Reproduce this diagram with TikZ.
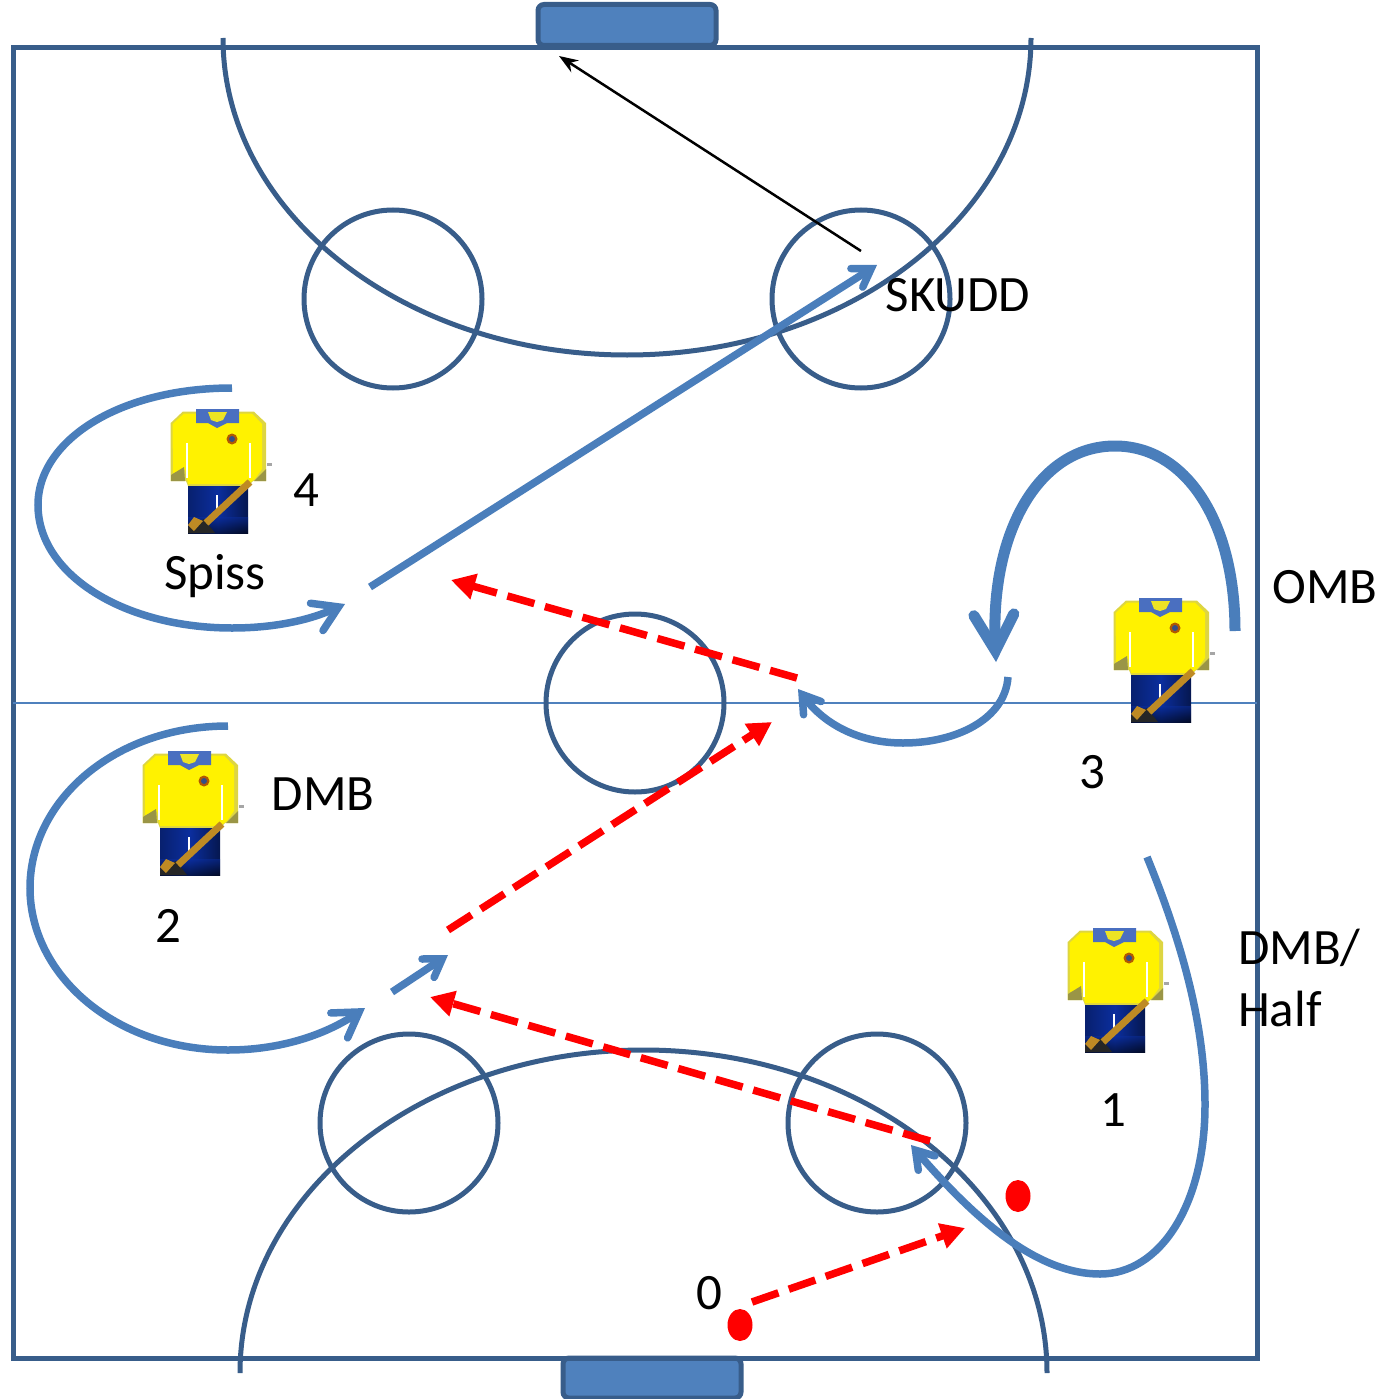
\documentclass[tikz,border=0pt]{standalone}
\usepackage{fontspec}
\setmainfont{Carlito}
\usetikzlibrary{arrows.meta,calc,shapes.geometric}
\definecolor{rinkblue}{HTML}{385D8A}
\definecolor{runblue}{HTML}{4A7EBB}
\definecolor{goalblue}{HTML}{4F81BD}
\definecolor{stickgold}{HTML}{BE8A24}
\definecolor{shortblue}{HTML}{0B2E9E}
\definecolor{collarblue}{HTML}{4A6FC0}
\tikzset{
  rink/.style={draw=rinkblue,line width=5pt},
  run/.style={draw=runblue,line width=7.5pt,-{Straight Barb[length=24pt,width=30pt,line width=7.5pt,line cap=round,line join=miter]}},
  runsmall/.style={draw=runblue,line width=7.5pt,-{Straight Barb[length=17pt,width=22pt,line width=7.5pt,line cap=round,line join=miter]}},
  runthick/.style={draw=runblue,line width=11pt,-{Straight Barb[length=36pt,width=40pt,line width=11pt,line cap=round,line join=miter]}},
  pass/.style={draw=red,line width=7.5pt,dash pattern=on 28pt off 11pt,-{Triangle[length=24pt,width=25pt]}},
  shotline/.style={draw=black,line width=2.5pt,-{Stealth[length=19pt,width=14pt]}},
  lab/.style={font=\fontsize{51}{60}\selectfont,inner sep=0pt},
  puck/.style={fill=red,draw=none},
  goal/.style={fill=goalblue,draw=rinkblue,line width=5pt,rounded corners=6pt},
  shirt/.pic={
    \fill[yellow!70!gray] (0.7,14)--(12.7,2.7)--(84,2.7)--(96,14)--(96,72)--(83,72)--(78,77)--(18,77)--(16,72)--(0.7,72)--cycle;
    \fill[yellow] (2.5,15)--(14,4.5)--(82,4.5)--(92,15)--(92,60)--(85,70)--(78,75)--(18,75)--(15,60)--(3,64)--cycle;
    \fill[yellow!55!black] (1,72)--(1,66)--(14,58)--(15,72)--cycle;
    \fill[yellow!55!black] (96,72)--(96,60)--(84,72)--cycle;
    \fill[gray!70] (97,54)--(102,54)--(102,57)--(97,57)--cycle;
    \fill[collarblue] (26,0)--(69,0)--(69,14)--(57,14)--(47,19)--(38,14)--(26,14)--cycle;
    \fill[yellow!85!gray] (38,3)--(57,3)--(53,11)--(47,13)--(41,11)--cycle;
    \fill[orange!70!black] (62,30) circle (5.5pt);
    \fill[collarblue!70!black] (62,30) circle (3pt);
    \fill[white] (15.5,34) rectangle (17.5,69);
    \fill[white] (78.5,34) rectangle (80.5,69);
    \shade[left color=shortblue!70!black,right color=shortblue!50!black,middle color=shortblue] (18,77) rectangle (78,124);
    \shade[top color=shortblue,bottom color=black,draw=none,opacity=0.5] (18,108) rectangle (78,124);
    \fill[black!85] (18,124)--(18,118)--(34,110)--(45,124)--cycle;
    \fill[white] (46,86) rectangle (48,104);
    \draw[draw=stickgold,line width=7pt] (80,73)--(36,114);
    \fill[stickgold] (18,116)--(24,108)--(33,112)--(24,122)--cycle;
  }
}
\begin{document}
\begin{tikzpicture}[x=1pt,y=-1pt]
\useasboundingbox (0,0) rectangle (1387,1399);
% rink
\node[goal,minimum width=178pt,minimum height=41pt,inner sep=0pt] (topgoal) at (627,25) {};
\node[goal,minimum width=178pt,minimum height=40pt,inner sep=0pt] (botgoal) at (652,1378) {};
\draw[rink] (13,48) rectangle (1257,1358);
\draw[draw=goalblue,line width=2pt] (13,703) -- (1257,703);
\draw[rink] (223,38) arc[start angle=180,end angle=360,x radius=404pt,y radius=317pt];
\draw[rink] (240,1373) arc[start angle=180,end angle=0,x radius=403.5pt,y radius=323pt];
\node[rink,circle,minimum size=178pt,inner sep=0pt] (c1) at (393,299) {};
\node[rink,circle,minimum size=178pt,inner sep=0pt] (c2) at (861,299) {};
\node[rink,circle,minimum size=178pt,inner sep=0pt] (c3) at (635,703) {};
\node[rink,circle,minimum size=178pt,inner sep=0pt] (c4) at (409,1123) {};
\node[rink,circle,minimum size=178pt,inner sep=0pt] (c5) at (877,1123) {};
% players
\pic at (170,409) {shirt};
\pic at (1113,598) {shirt};
\pic at (142,751) {shirt};
\pic at (1067,928) {shirt};
% pucks
\node[puck,ellipse,minimum width=25pt,minimum height=32pt,inner sep=0pt] (p1) at (1018,1196) {};
\node[puck,ellipse,minimum width=25pt,minimum height=32pt,inner sep=0pt] (p0) at (740,1325) {};
% coordinates
\coordinate (s1) at (861,251); \coordinate (e1) at (559,56);
\coordinate (s2) at (370,587); \coordinate (e2) at (877,265);
\coordinate (s3) at (392,992); \coordinate (e3) at (448,955);
\coordinate (r1s) at (797,678); \coordinate (r1e) at (451,580);
\coordinate (r2s) at (448,930); \coordinate (r2e) at (772,722);
\coordinate (r3s) at (930,1141); \coordinate (r3e) at (430,997);
\coordinate (r4s) at (752,1302); \coordinate (r4e) at (965,1228);
% connectors
\draw[shotline] (s1) -- (e1);
\draw[runsmall] (s2) -- (e2);
\draw[runsmall] (s3) -- (e3);
\draw[run] (232,388) .. controls (120,388) and (38,440) .. (38,505) .. controls (38,575) and (125,628) .. (232,628) .. controls (275,628) and (310,620) .. (345,604);
\draw[run] (228,726) .. controls (115,726) and (30,800) .. (30,888) .. controls (30,975) and (115,1050) .. (228,1050) .. controls (280,1050) and (325,1035) .. (365,1008);
\draw[runthick] (1235,631) .. controls (1235,520) and (1185,446) .. (1115,446) .. controls (1040,446) and (990,530) .. (996,662);
\draw[runsmall] (1008,677) .. controls (1005,720) and (955,743) .. (903,743) .. controls (860,743) and (825,725) .. (798,689);
\draw[runsmall] (1147,857) .. controls (1185,950) and (1205,1030) .. (1205,1105) .. controls (1205,1205) and (1160,1274) .. (1100,1274) .. controls (1040,1274) and (980,1225) .. (911,1145);
\draw[pass] (r1s) -- (r1e);
\draw[pass] (r2s) -- (r2e);
\draw[pass] (r3s) -- (r3e);
\draw[pass] (r4s) -- (r4e);
% labels
\node[lab] (t1) at (958,295) {SKUDD};
\node[lab] (t2) at (306,490) {4};
\node[lab] (t3) at (215,576) {Spiss};
\node[lab] (t4) at (1325,587) {OMB};
\node[lab] (t5) at (1092,772) {3};
\node[lab] (t6) at (323,794) {DMB};
\node[lab] (t7) at (168,926) {2};
\node[lab,anchor=west] (t8) at (1238,948) {DMB/};
\node[lab,anchor=west] (t9) at (1238,1009) {Half};
\node[lab] (t10) at (1113,1110) {1};
\node[lab] (t11) at (709,1293) {0};
\end{tikzpicture}
\end{document}
